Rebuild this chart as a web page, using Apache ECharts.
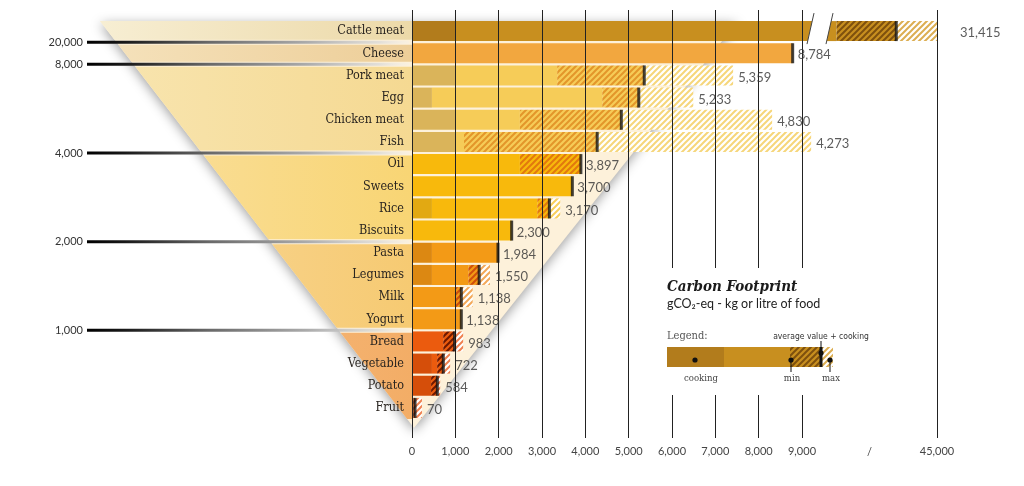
<!DOCTYPE html>
<html><head><meta charset="utf-8">
<script src="https://cdn.jsdelivr.net/npm/echarts@6/dist/echarts.min.js"></script>
<style>html,body{margin:0;padding:0;background:#fff}#c{width:1024px;height:486px}</style>
</head><body><div id="c"></div>
<script>
// ---------------- data ----------------
const categories = ['Cattle meat','Cheese','Pork meat','Egg','Chicken meat','Fish','Oil','Sweets','Rice','Biscuits','Pasta','Legumes','Milk','Yogurt','Bread','Vegetable','Potato','Fruit'];
const avgValues     = [31415, 8784, 5359, 5233, 4830, 4273, 3897, 3700, 3170, 2300, 1984, 1550, 1138, 1138, 983, 722, 584, 70];
const minValues     = [11500, 8784, 3350, 4390, 2490, 1200, 2490, 3700, 2890, 2300, 1984, 1300, 1000, 1138, 720, 580, 440, 30];
const maxValues     = [45300, null, 7410, 6490, 8310, 9210, null, null, 3420, null, null, 1800, 1400, null, 1180, 880, 650, 230];
const cookingValues = [1000, 0, 1000, 460, 1000, 1000, 0, 0, 460, 0, 460, 460, 0, 0, 0, 460, 440, 0];
const thresholdValues = [20000, 8000, 4000, 2000, 1000];
const thresholdAfter  = ['Cattle meat','Cheese','Fish','Biscuits','Yogurt'];
const mainTickMax = 9000, mainTickStep = 1000;
const mainAxisMax = 9230;            // axis broken here
const breakAxisMin = 8000, breakAxisMax = 45500, breakTick = 45000;

// ---------------- style helpers ----------------
const N = categories.length;
const fmt = v => Number(v).toLocaleString('en-US');
const bounds = thresholdAfter.map(c => categories.indexOf(c));
const groupOf = i => { let g = 0; bounds.forEach(b => { if (i > b) g++; }); return g; };
const palette = [
  {base:'#c88f1f', cook:'#b27c1c', dark:'#7e500e', light:'#dcae52'},
  {base:'#f2a73f', cook:'#f2a73f', dark:'#c46e18', light:'#f5c07a'},
  {base:'#f6cc58', cook:'#dab45a', dark:'#e3962a', light:'#f6d67a'},
  {base:'#f8b90c', cook:'#e2a912', dark:'#e2780e', light:'#f8cf5c'},
  {base:'#f39a16', cook:'#dc8812', dark:'#cf4f0c', light:'#f3a859'},
  {base:'#eb5b0e', cook:'#d54e0a', dark:'#6e1800', light:'#ef8050'}
];
const bandColors = [
  ['#f7eed3','#ecd9a8'], ['#f5e2bc','#edce98'], ['#f8e5b0','#f5d992'],
  ['#fae0a0','#f8d574'], ['#f9d89a','#f6ca72'], ['#f7c08a','#f3ad66']
];
function stripe(bg, fg) {
  const s = 6, c = document.createElement('canvas'); c.width = s; c.height = s;
  const x = c.getContext('2d');
  if (bg) { x.fillStyle = bg; x.fillRect(0, 0, s, s); }
  x.strokeStyle = fg; x.lineWidth = 2;
  x.beginPath();
  x.moveTo(0, s); x.lineTo(s, 0);
  x.moveTo(-s/2, s/2); x.lineTo(s/2, -s/2);
  x.moveTo(s/2, s*1.5); x.lineTo(s*1.5, s/2);
  x.stroke();
  return {image: c, repeat: 'repeat'};
}
const pal = i => palette[groupOf(i)];
const inMain = i => avgValues[i] <= mainAxisMax;
const FUNNEL_LEFT = 100, FUNNEL_RIGHT = 738;
const catFont = '"DejaVu Serif Condensed", "DejaVu Serif", "Liberation Serif", serif';
const numFont = 'Lato, "Open Sans", sans-serif';

// ---------------- series data ----------------
const cookData  = categories.map((c,i) => ({value: cookingValues[i] || 0, itemStyle:{color: pal(i).cook}}));
const solidData = categories.map((c,i) => ({value: minValues[i] - (cookingValues[i] || 0), itemStyle:{color: pal(i).base}}));
const darkData  = categories.map((c,i) => ({value: avgValues[i] - minValues[i], itemStyle:{color: stripe(pal(i).base, pal(i).dark)}}));
const lightData = categories.map((c,i) => ({value: maxValues[i] != null ? maxValues[i] - avgValues[i] : 0, itemStyle:{color: stripe('#ffffff', pal(i).light)}}));
const b2solid = categories.map((c,i) => inMain(i) ? '-' : {value: minValues[i], itemStyle:{color: pal(i).base}});
const b2dark  = categories.map((c,i) => inMain(i) ? '-' : {value: avgValues[i] - minValues[i], itemStyle:{color: stripe(pal(i).base, pal(i).dark)}});
const b2light = categories.map((c,i) => inMain(i) ? '-' : {value: (maxValues[i] || avgValues[i]) - avgValues[i], itemStyle:{color: stripe('#ffffff', pal(i).light)}});
const markMain = [], markBrk = [], labMain = [], labBrk = [];
categories.forEach((c,i) => {
  const anchor = maxValues[i] != null ? maxValues[i] : avgValues[i];
  if (inMain(i)) { markMain.push([avgValues[i], i]); labMain.push([anchor, i, avgValues[i]]); }
  else { markBrk.push([avgValues[i], i]); labBrk.push([anchor, i, avgValues[i]]); }
});
const bandData = [];
{ let s = 0; bounds.concat([N-1]).forEach((e,k) => { bandData.push([0, s, e, k]); s = e + 1; }); }
const thrData = bounds.map((r,j) => [0, r, thresholdValues[j]]);

function geom(api) {
  const bandH = api.size([0,1])[1];
  const x0 = api.coord([0,0])[0];
  const topY = api.coord([0,0])[1] - bandH/2 + 1;
  const botY = api.coord([0,N-1])[1] + bandH/2;
  const apex = [x0 + 2, botY + 9];
  const edge = y => FUNNEL_LEFT + (apex[0]-FUNNEL_LEFT)*(y-topY)/(apex[1]-topY);
  return {bandH, x0, topY, botY, apex, edge};
}

const barCommon = {type:'bar', xAxisIndex:0, yAxisIndex:0, stack:'m', barWidth:20, z:3, clip:true, silent:true};
const brkCommon = {type:'bar', xAxisIndex:1, yAxisIndex:1, stack:'b', barWidth:20, z:3, clip:true, silent:true};
const labelStyle = {show:true, position:'right', distance:5, offset:[0,2], fontFamily:numFont, fontSize:13, color:'#333',
  formatter: p => fmt(p.value[2])};

const option = {
  animation: false,
  backgroundColor: '#ffffff',
  grid: [
    {left:412, top:20, width:400, height:399, outerBoundsMode:'none'},
    {left:826, top:20, width:112.5, height:399, outerBoundsMode:'none'},
    {left:412, top:10, width:390, height:428, outerBoundsMode:'none'},
    {left:826, top:10, width:111, height:428, outerBoundsMode:'none'}
  ],
  xAxis: [
    {gridIndex:0, type:'value', min:0, max:mainAxisMax, show:false},
    {gridIndex:1, type:'value', min:breakAxisMin, max:breakAxisMax, show:false},
    {gridIndex:2, type:'value', min:0, max:mainTickMax, interval:mainTickStep, z:4,
      axisLine:{show:false}, axisTick:{show:false},
      splitLine:{show:true, lineStyle:{color:'#222', width:1}},
      axisLabel:{margin:8, fontFamily:numFont, fontSize:11, color:'#444', formatter: v => fmt(v)}},
    {gridIndex:3, type:'value', min:breakAxisMin, max:breakTick, interval:breakTick-breakAxisMin, z:4,
      axisLine:{show:false}, axisTick:{show:false},
      splitLine:{show:true, showMinLine:false, lineStyle:{color:'#222', width:1}},
      axisLabel:{margin:8, showMinLabel:false, fontFamily:numFont, fontSize:11, color:'#444', formatter: v => fmt(v)}}
  ],
  yAxis: [
    {gridIndex:0, type:'category', data:categories, inverse:true, z:6,
      axisLine:{show:false}, axisTick:{show:false}, splitLine:{show:false},
      axisLabel:{margin:8, fontFamily:catFont, fontSize:12.5, color:'#2a2520'}},
    {gridIndex:1, type:'category', data:categories, inverse:true, show:false},
    {gridIndex:2, type:'value', min:0, max:1, show:false},
    {gridIndex:3, type:'value', min:0, max:1, show:false}
  ],
  series: [
    {type:'custom', name:'funnelBase', xAxisIndex:0, yAxisIndex:0, z:0, clip:false, silent:true,
      encode:{x:0, y:1}, data:[[0,0]],
      renderItem: (params, api) => {
        const g = geom(api);
        return {type:'polygon', shape:{points:[[FUNNEL_LEFT, g.topY],[FUNNEL_RIGHT, g.topY], g.apex]},
          style:{fill:'#fdf1da', shadowBlur:12, shadowColor:'rgba(0,0,0,0.38)', shadowOffsetY:3}};
      }},
    {type:'custom', name:'funnelBands', xAxisIndex:0, yAxisIndex:0, z:1, clip:false, silent:true,
      encode:{x:0, y:1}, data:bandData,
      renderItem: (params, api) => {
        const g = geom(api);
        const s = api.value(1), e = api.value(2), k = api.value(3);
        const yTop = api.coord([0,s])[1] - g.bandH/2 + (s === 0 ? 1 : 2.5);
        const yBot = api.coord([0,e])[1] + g.bandH/2 - (e === N-1 ? 0 : 2.5);
        return {type:'polygon',
          shape:{points:[[g.edge(yTop), yTop],[g.x0, yTop],[g.x0, yBot],[g.edge(yBot), yBot]]},
          style:{fill: new echarts.graphic.LinearGradient(FUNNEL_LEFT, 0, g.x0, 0,
            [{offset:0, color:bandColors[k][0]},{offset:1, color:bandColors[k][1]}], true)}};
      }},
    {type:'custom', name:'thresholds', xAxisIndex:0, yAxisIndex:0, z:2, clip:false, silent:true,
      encode:{x:0, y:1}, data:thrData,
      renderItem: (params, api) => {
        const g = geom(api);
        const r = api.value(1), v = api.value(2);
        const y = api.coord([0,r])[1] + g.bandH/2;
        return {type:'group', children:[
          {type:'rect', shape:{x:87, y:y-1.5, width:g.x0-87-3, height:3},
            style:{fill: new echarts.graphic.LinearGradient(87, 0, g.x0, 0, [
              {offset:0, color:'#000'},{offset:0.12, color:'#1a1a1a'},{offset:0.38, color:'#6a6a6a'},
              {offset:0.68, color:'#acacac'},{offset:0.9, color:'rgba(215,215,215,0.7)'},{offset:1, color:'rgba(240,240,240,0.2)'}], true)}},
          {type:'text', x:83, y:y, style:{text:fmt(v), fontFamily:numFont, fontSize:11, fill:'#333', align:'right', verticalAlign:'middle'}}
        ]};
      }},
    Object.assign({name:'cooking', data:cookData}, barCommon),
    Object.assign({name:'min', data:solidData}, barCommon),
    Object.assign({name:'avg', data:darkData}, barCommon),
    Object.assign({name:'max', data:lightData}, barCommon),
    Object.assign({name:'min2', data:b2solid}, brkCommon),
    Object.assign({name:'avg2', data:b2dark}, brkCommon),
    Object.assign({name:'max2', data:b2light}, brkCommon),
    {type:'scatter', name:'marker', xAxisIndex:0, yAxisIndex:0, z:5, silent:true, symbol:'rect', symbolSize:[3,20],
      itemStyle:{color:'#141414'}, data:markMain},
    {type:'scatter', name:'marker2', xAxisIndex:1, yAxisIndex:1, z:5, silent:true, symbol:'rect', symbolSize:[3,20],
      itemStyle:{color:'#141414'}, data:markBrk},
    {type:'scatter', name:'label', xAxisIndex:0, yAxisIndex:0, z:5, silent:true, symbolSize:0,
      itemStyle:{color:'transparent'}, label:labelStyle, data:labMain},
    {type:'scatter', name:'label2', xAxisIndex:1, yAxisIndex:1, z:5, silent:true, symbolSize:0,
      itemStyle:{color:'transparent'}, label:Object.assign({}, labelStyle, {distance:22}), data:labBrk}
  ]
};
const chart = echarts.init(document.getElementById('c'), null, {renderer:'canvas'});
chart.setOption(option);

// ---------------- decorations: axis break, legend key ----------------
const xL = chart.convertToPixel({xAxisIndex:0}, mainAxisMax);
const xR = chart.convertToPixel({xAxisIndex:1}, breakAxisMin);
const yC = chart.convertToPixel({yAxisIndex:0}, categories[0]);
const x9 = chart.convertToPixel({xAxisIndex:2}, mainTickMax);
const x45 = chart.convertToPixel({xAxisIndex:3}, breakTick);
const sl = (xt, xb, y) => xt + (xb - xt) * (y - (yC - 18)) / 31;
const Z = 20;
const els = [];
els.push({type:'polygon', z:Z, silent:true, shape:{points:[
  [sl(xL+2, xL-5, yC-11), yC-11],[sl(xR+7, xR, yC-11), yC-11],[sl(xR+7, xR, yC+11), yC+11],[sl(xL+2, xL-5, yC+11), yC+11]]},
  style:{fill:'#fff'}});
els.push({type:'line', z:Z, silent:true, shape:{x1:xL+2, y1:yC-18, x2:xL-5, y2:yC+13}, style:{stroke:'#444', lineWidth:1}});
els.push({type:'line', z:Z, silent:true, shape:{x1:xR+7, y1:yC-18, x2:xR, y2:yC+13}, style:{stroke:'#444', lineWidth:1}});
els.push({type:'text', z:Z, silent:true, x:(x9 + x45)/2, y:452, style:{text:'/', fontFamily:numFont, fontSize:11, fill:'#444', align:'center', verticalAlign:'middle'}});
// legend key
const L = palette[0];
els.push({type:'rect', z:Z, silent:true, shape:{x:655, y:268, width:225, height:127}, style:{fill:'#fff'}});
els.push({type:'text', z:Z, silent:true, x:667, y:287, style:{text:'Carbon Footprint', font:'italic bold 15px ' + catFont, fill:'#1a1a1a', verticalAlign:'middle'}});
els.push({type:'text', z:Z, silent:true, x:667, y:304, style:{text:'gCO₂-eq - kg or litre of food', font:'12.5px ' + numFont, fill:'#222', verticalAlign:'middle'}});
els.push({type:'text', z:Z, silent:true, x:667, y:336, style:{text:'Legend:', font:'11px ' + catFont, fill:'#555', verticalAlign:'middle'}});
els.push({type:'text', z:Z, silent:true, x:821, y:337, style:{text:'average value + cooking', font:'8.5px "Liberation Sans Narrow", "DejaVu Sans Condensed", sans-serif', fill:'#333', align:'center', verticalAlign:'middle'}});
els.push({type:'rect', z:Z, silent:true, shape:{x:667, y:347, width:57, height:20}, style:{fill:L.cook}});
els.push({type:'rect', z:Z, silent:true, shape:{x:724, y:347, width:66, height:20}, style:{fill:L.base}});
els.push({type:'rect', z:Z, silent:true, shape:{x:790, y:347, width:31, height:20}, style:{fill:stripe(L.base, L.dark)}});
els.push({type:'rect', z:Z, silent:true, shape:{x:821, y:347, width:12, height:20}, style:{fill:stripe('#ffffff', L.light)}});
els.push({type:'rect', z:Z, silent:true, shape:{x:819.5, y:347, width:3, height:20}, style:{fill:'#141414'}});
[[695,360],[791,360],[830,360],[821,353]].forEach(p => els.push({type:'circle', z:Z+1, silent:true, shape:{cx:p[0], cy:p[1], r:2.6}, style:{fill:'#111'}}));
els.push({type:'line', z:Z+1, silent:true, shape:{x1:791, y1:360, x2:791, y2:372}, style:{stroke:'#111', lineWidth:1}});
els.push({type:'line', z:Z+1, silent:true, shape:{x1:830, y1:360, x2:830, y2:372}, style:{stroke:'#111', lineWidth:1}});
els.push({type:'line', z:Z+1, silent:true, shape:{x1:821, y1:341, x2:821, y2:353}, style:{stroke:'#111', lineWidth:1}});
[['cooking',701],['min',792],['max',831]].forEach(t => els.push({type:'text', z:Z, silent:true, x:t[1], y:379,
  style:{text:t[0], font:'9.5px ' + catFont, fill:'#444', align:'center', verticalAlign:'middle'}}));
chart.setOption({graphic:{elements:els}});
</script>
</body></html>
